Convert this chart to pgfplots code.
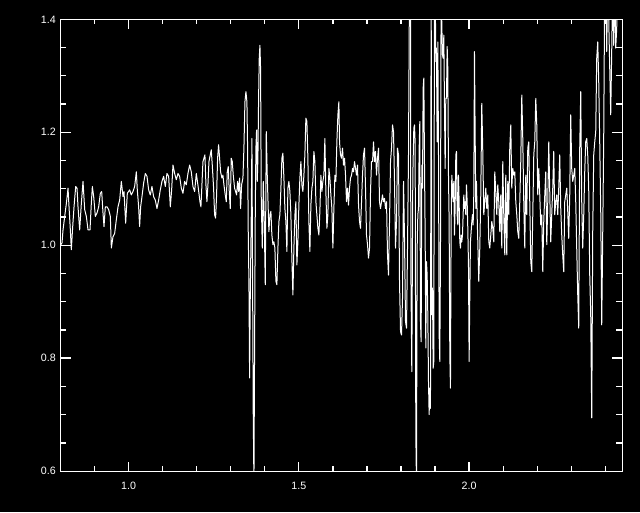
\documentclass[border=0pt]{standalone}
\usepackage{fontspec}
\setmainfont{Liberation Sans}
\usepackage{pgfplots}
\pgfplotsset{compat=1.18}
\begin{document}
\begin{tikzpicture}
\fill[black] (-45.3pt,-30.75pt) rectangle (434.7pt,353.3pt);
\begin{axis}[
  at={(0pt,0pt)}, anchor=south west,
  scale only axis,
  width=421.5pt, height=338.8pt,
  xmin=0.8, xmax=2.45, ymin=0.6, ymax=1.4,
  xtick={1.0,1.5,2.0}, ytick={0.6,0.8,1.0,1.2,1.4},
  tick align=inside,
  xticklabel pos=lower, yticklabel pos=left,
  major tick length=0pt,
  tick style={draw=none},
  axis line style={white, line width=0.8pt},
  tick label style={text=white, font=\fontsize{8}{9}\selectfont},
  xticklabel style={yshift=-4.5pt},
  /pgf/number format/.cd, fixed, fixed zerofill, precision=1, assume math mode=true,
]
\pgfplotsinvokeforeach{1.0,1.5,2.0}{
  \draw[white, line width=1pt] (axis cs:#1,0.6) -- ++(0pt,7pt);
  \draw[white, line width=1pt] (axis cs:#1,1.4) -- ++(0pt,-7pt);
}
\pgfplotsinvokeforeach{0.9,1.1,1.2,1.3,1.4,1.6,1.7,1.8,1.9,2.1,2.2,2.3,2.4}{
  \draw[white, line width=1pt] (axis cs:#1,0.6) -- ++(0pt,3.75pt);
  \draw[white, line width=1pt] (axis cs:#1,1.4) -- ++(0pt,-3.75pt);
}
\pgfplotsinvokeforeach{0.8,1.0,1.2}{
  \draw[white, line width=1pt] (axis cs:0.8,#1) -- ++(8pt,0pt);
  \draw[white, line width=1pt] (axis cs:2.45,#1) -- ++(-8pt,0pt);
}
\pgfplotsinvokeforeach{0.65,0.7,0.75,0.85,0.9,0.95,1.05,1.1,1.15,1.25,1.3,1.35}{
  \draw[white, line width=1pt] (axis cs:0.8,#1) -- ++(4.5pt,0pt);
  \draw[white, line width=1pt] (axis cs:2.45,#1) -- ++(-4.5pt,0pt);
}
\addplot[white, line width=0.75pt, line join=round, no markers] table {
x y
0.8000 1.000
0.8047 1.004
0.8077 1.027
0.8126 1.051
0.8175 1.074
0.8224 1.101
0.8253 1.068
0.8292 1.027
0.8321 0.992
0.8361 1.033
0.8400 1.068
0.8449 1.104
0.8488 1.101
0.8517 1.068
0.8566 1.027
0.8615 1.074
0.8664 1.113
0.8713 1.063
0.8762 1.051
0.8811 1.027
0.8869 1.027
0.8908 1.074
0.8938 1.104
0.8977 1.086
0.9026 1.051
0.9075 1.057
0.9124 1.068
0.9173 1.092
0.9212 1.095
0.9251 1.057
0.9280 1.033
0.9319 1.068
0.9368 1.068
0.9417 1.063
0.9466 1.051
0.9496 0.995
0.9544 1.015
0.9593 1.021
0.9642 1.045
0.9691 1.068
0.9740 1.080
0.9789 1.113
0.9838 1.086
0.9867 1.095
0.9916 1.039
0.9965 1.092
1.0033 1.098
1.0082 1.089
1.0131 1.095
1.0180 1.104
1.0229 1.130
1.0258 1.098
1.0297 1.068
1.0326 1.033
1.0356 1.068
1.0395 1.086
1.0444 1.110
1.0493 1.127
1.0542 1.122
1.0591 1.098
1.0640 1.089
1.0688 1.104
1.0737 1.086
1.0786 1.080
1.0835 1.065
1.0884 1.080
1.0933 1.098
1.0982 1.113
1.1031 1.122
1.1080 1.104
1.1129 1.127
1.1178 1.122
1.1227 1.068
1.1266 1.098
1.1305 1.142
1.1354 1.127
1.1403 1.116
1.1452 1.127
1.1501 1.122
1.1550 1.101
1.1598 1.092
1.1647 1.113
1.1696 1.107
1.1745 1.127
1.1794 1.142
1.1843 1.130
1.1892 1.104
1.1941 1.095
1.1990 1.127
1.2041 1.105
1.2097 1.077
1.2126 1.068
1.2155 1.107
1.2185 1.148
1.2214 1.154
1.2243 1.160
1.2273 1.107
1.2302 1.077
1.2332 1.107
1.2361 1.148
1.2400 1.160
1.2429 1.169
1.2459 1.142
1.2498 1.101
1.2527 1.054
1.2557 1.048
1.2586 1.089
1.2615 1.154
1.2645 1.178
1.2674 1.154
1.2703 1.130
1.2742 1.119
1.2772 1.124
1.2801 1.107
1.2840 1.089
1.2870 1.077
1.2899 1.130
1.2928 1.139
1.2958 1.095
1.2987 1.065
1.3016 1.154
1.3046 1.148
1.3075 1.124
1.3114 1.101
1.3144 1.095
1.3173 1.089
1.3202 1.113
1.3232 1.095
1.3261 1.119
1.3290 1.065
1.3320 1.107
1.3359 1.119
1.3388 1.172
1.3418 1.254
1.3447 1.272
1.3476 1.254
1.3496 1.172
1.3515 1.024
1.3535 0.936
1.3555 0.765
1.3574 0.906
1.3604 1.054
1.3623 1.189
1.3643 0.936
1.3662 0.700
1.3682 0.580
1.3701 0.818
1.3721 1.054
1.3740 1.172
1.3760 1.204
1.3780 1.113
1.3799 1.154
1.3819 1.260
1.3838 1.331
1.3858 1.354
1.3877 1.313
1.3897 1.083
1.3927 0.995
1.3956 1.113
1.3985 1.042
1.4015 0.930
1.4044 1.201
1.4073 1.124
1.4121 1.024
1.4151 1.054
1.4180 1.060
1.4209 1.018
1.4239 1.001
1.4268 1.006
1.4297 0.995
1.4327 0.936
1.4356 0.930
1.4386 0.995
1.4415 1.042
1.4444 1.054
1.4474 1.101
1.4503 1.154
1.4532 1.163
1.4562 1.119
1.4591 1.065
1.4620 1.042
1.4650 0.989
1.4679 1.101
1.4708 1.113
1.4738 1.095
1.4767 1.054
1.4796 0.977
1.4826 0.912
1.4855 0.995
1.4885 1.054
1.4914 1.077
1.4943 0.965
1.4973 1.006
1.5002 1.071
1.5031 1.119
1.5061 1.148
1.5090 1.107
1.5119 1.095
1.5149 1.124
1.5178 1.160
1.5207 1.225
1.5237 1.219
1.5266 1.154
1.5295 1.042
1.5325 0.989
1.5354 1.071
1.5384 1.101
1.5413 1.113
1.5442 1.166
1.5472 1.148
1.5501 1.077
1.5530 1.054
1.5560 1.030
1.5589 1.018
1.5618 1.060
1.5648 1.124
1.5677 1.095
1.5706 1.113
1.5736 1.124
1.5765 1.189
1.5794 1.095
1.5824 1.030
1.5853 1.054
1.5883 1.136
1.5912 1.119
1.5941 1.089
1.5971 1.065
1.6000 0.995
1.6029 1.065
1.6059 1.124
1.6088 1.113
1.6117 1.183
1.6147 1.231
1.6176 1.254
1.6195 1.183
1.6224 1.160
1.6254 1.154
1.6283 1.172
1.6312 1.142
1.6342 1.154
1.6371 1.124
1.6400 1.077
1.6430 1.101
1.6459 1.071
1.6488 1.101
1.6518 1.119
1.6547 1.124
1.6577 1.136
1.6606 1.130
1.6635 1.148
1.6665 1.136
1.6694 1.124
1.6723 1.142
1.6753 1.071
1.6782 1.042
1.6811 1.030
1.6841 1.077
1.6870 1.124
1.6899 1.160
1.6929 1.172
1.6958 1.101
1.6987 1.018
1.7017 1.001
1.7046 0.977
1.7076 0.995
1.7105 1.095
1.7134 1.148
1.7164 1.148
1.7193 1.183
1.7222 1.148
1.7252 1.166
1.7281 1.124
1.7310 1.154
1.7340 1.172
1.7369 1.077
1.7398 1.065
1.7428 1.077
1.7457 1.089
1.7486 1.077
1.7516 1.083
1.7545 1.065
1.7575 1.077
1.7604 0.983
1.7633 0.947
1.7663 1.042
1.7692 1.148
1.7721 1.172
1.7751 1.213
1.7780 1.201
1.7809 1.113
1.7839 0.995
1.7868 1.042
1.7897 1.172
1.7927 1.160
1.7956 0.936
1.7986 0.847
1.8015 0.841
1.8044 0.906
1.8074 1.113
1.8103 1.012
1.8132 0.865
1.8162 0.853
1.8191 0.995
1.8220 1.160
1.8250 1.470
1.8279 1.470
1.8288 0.965
1.8317 0.776
1.8347 1.124
1.8376 1.207
1.8396 1.213
1.8415 1.183
1.8435 0.664
1.8454 0.580
1.8474 0.995
1.8494 1.054
1.8513 1.065
1.8533 1.172
1.8552 1.219
1.8572 0.865
1.8591 0.829
1.8611 1.142
1.8631 1.101
1.8650 1.278
1.8670 1.296
1.8689 1.148
1.8709 1.018
1.8728 0.818
1.8748 0.971
1.8768 0.947
1.8787 0.877
1.8807 0.759
1.8826 0.700
1.8846 0.747
1.8865 0.711
1.8885 1.470
1.8904 0.877
1.8924 0.924
1.8944 0.782
1.8963 0.794
1.8983 1.470
1.9002 1.470
1.9022 1.325
1.9041 1.349
1.9061 1.183
1.9081 1.360
1.9100 1.172
1.9120 0.841
1.9139 0.794
1.9159 0.995
1.9178 1.470
1.9198 1.390
1.9218 1.337
1.9237 1.331
1.9257 1.372
1.9276 1.248
1.9296 1.136
1.9315 1.260
1.9335 1.260
1.9355 1.352
1.9374 1.313
1.9394 1.124
1.9413 1.042
1.9433 0.806
1.9452 0.747
1.9472 1.042
1.9492 1.124
1.9511 1.101
1.9531 1.077
1.9550 1.113
1.9570 1.018
1.9589 1.065
1.9609 1.160
1.9629 1.166
1.9648 1.054
1.9668 1.036
1.9687 1.124
1.9707 1.077
1.9726 1.006
1.9746 0.995
1.9766 1.018
1.9785 1.006
1.9805 1.018
1.9824 1.054
1.9844 1.089
1.9863 1.065
1.9883 1.077
1.9902 1.054
1.9922 1.107
1.9942 1.077
1.9961 1.030
1.9981 0.965
2.0000 0.794
2.0020 0.912
2.0039 1.006
2.0059 1.024
2.0079 1.042
2.0098 1.054
2.0118 1.036
2.0137 1.089
2.0157 1.343
2.0176 1.201
2.0196 1.065
2.0215 1.113
2.0235 1.054
2.0283 0.936
2.0313 0.995
2.0342 1.089
2.0371 1.251
2.0401 1.166
2.0430 1.054
2.0459 1.077
2.0489 1.101
2.0518 1.065
2.0548 1.089
2.0577 1.006
2.0606 0.995
2.0636 1.018
2.0665 1.042
2.0694 1.030
2.0724 1.006
2.0753 1.130
2.0782 1.095
2.0812 1.054
2.0841 1.107
2.0870 1.077
2.0900 1.024
2.0929 1.089
2.0959 0.995
2.0988 1.148
2.1017 1.054
2.1047 0.983
2.1076 1.124
2.1105 0.983
2.1135 1.113
2.1164 1.054
2.1193 1.172
2.1223 1.213
2.1252 1.101
2.1281 1.136
2.1311 1.124
2.1340 1.130
2.1370 1.077
2.1399 1.054
2.1428 1.024
2.1458 1.012
2.1487 1.077
2.1516 1.148
2.1546 1.266
2.1575 1.189
2.1604 1.077
2.1634 0.995
2.1663 1.124
2.1692 1.054
2.1722 1.172
2.1751 1.183
2.1780 1.077
2.1810 0.971
2.1839 0.953
2.1869 1.054
2.1898 1.160
2.1927 1.183
2.1957 1.260
2.1986 1.213
2.2015 1.089
2.2045 1.136
2.2074 1.089
2.2103 1.036
2.2133 1.054
2.2162 0.953
2.2191 1.042
2.2221 1.089
2.2250 1.130
2.2280 1.001
2.2309 1.077
2.2338 1.183
2.2396 1.006
2.2425 1.054
2.2455 1.101
2.2484 1.166
2.2513 1.054
2.2543 1.077
2.2572 1.089
2.2602 1.054
2.2631 1.101
2.2660 1.160
2.2690 1.065
2.2719 1.018
2.2748 0.983
2.2778 0.953
2.2807 1.077
2.2836 1.089
2.2866 1.101
2.2895 1.060
2.2924 1.012
2.2954 1.089
2.2983 1.231
2.3012 1.136
2.3042 1.113
2.3071 1.124
2.3101 1.136
2.3130 1.077
2.3159 0.995
2.3189 0.912
2.3218 0.853
2.3247 1.172
2.3277 1.272
2.3306 1.077
2.3335 0.995
2.3365 1.054
2.3394 1.130
2.3423 1.183
2.3453 1.189
2.3482 1.160
2.3511 1.101
2.3541 0.947
2.3570 0.877
2.3600 0.694
2.3629 1.024
2.3658 1.160
2.3688 1.183
2.3717 1.201
2.3746 1.331
2.3776 1.360
2.3805 1.290
2.3834 1.183
2.3864 1.060
2.3893 0.859
2.3922 1.018
2.3952 1.195
2.3981 1.470
2.4010 1.470
2.4040 1.343
2.4069 1.470
2.4098 1.402
2.4128 1.313
2.4157 1.231
2.4186 1.343
2.4216 1.470
2.4245 1.354
2.4274 1.470
2.4304 1.349
2.4333 1.384
2.4362 1.470
2.4392 1.470
2.4421 1.470
2.4460 1.470
};
\end{axis}
\end{tikzpicture}
\end{document}
